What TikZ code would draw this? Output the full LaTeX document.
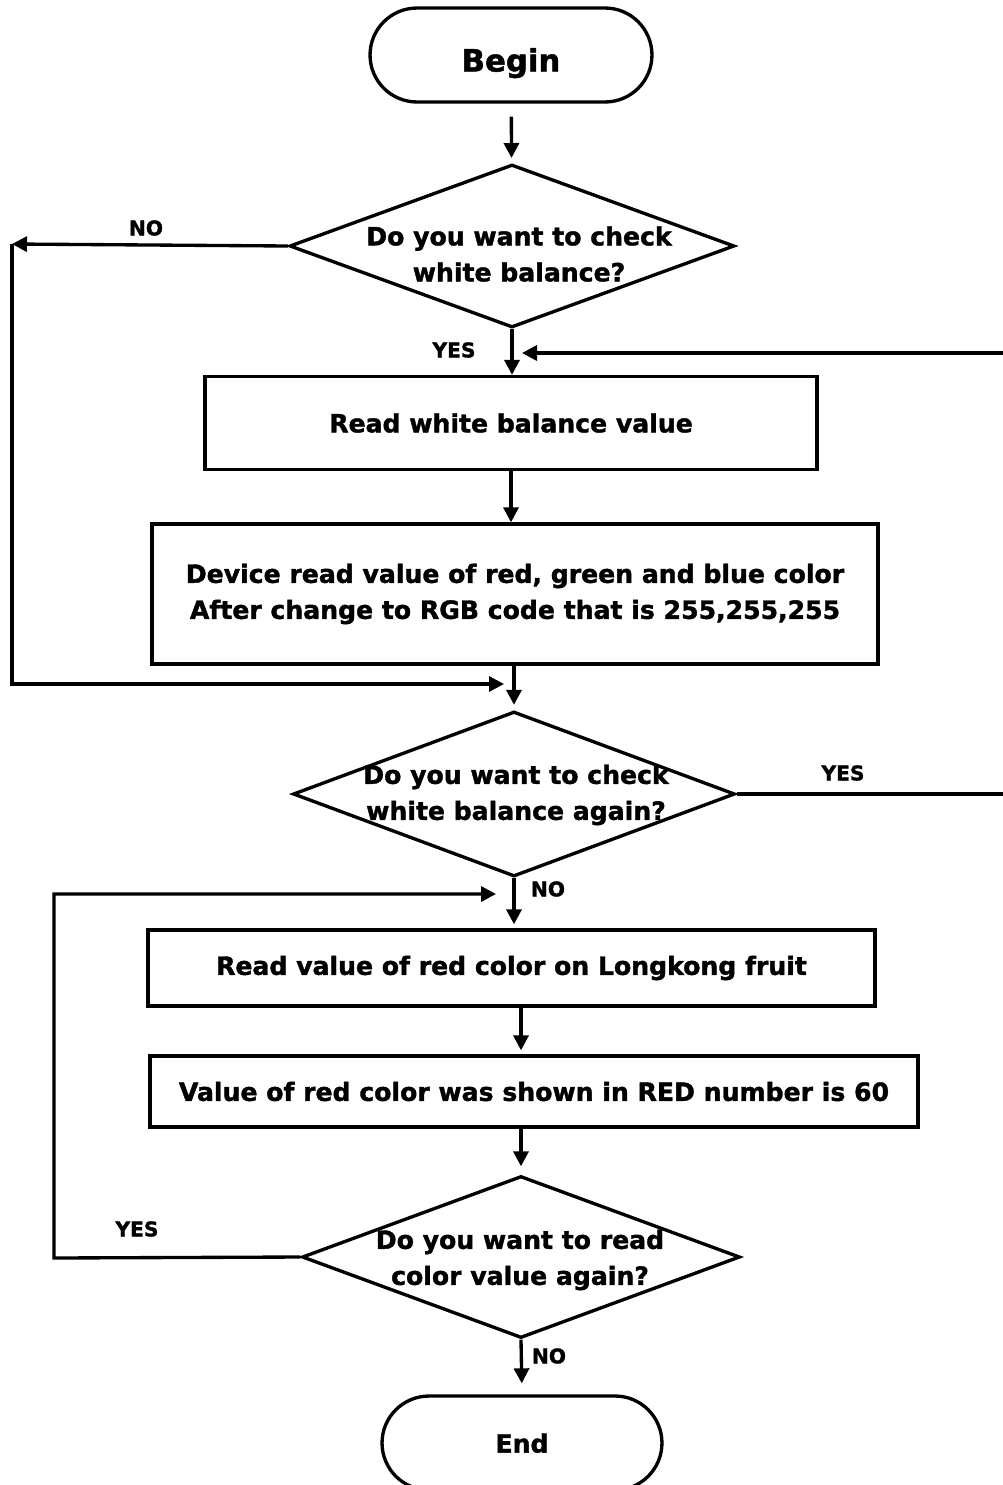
\documentclass[tikz,border=0pt]{standalone}
\usepackage{fontspec}
\setmainfont{DejaVu Sans}[BoldFeatures={FakeBold=1.5}]
\usepackage{tikz}
\usetikzlibrary{shapes.geometric, arrows.meta, positioning}

\begin{document}
\begin{tikzpicture}[
    x=0.02cm, y=-0.02cm,
    line width=1.9pt,
    txt/.style={font=\fontsize{14.3}{20.5}\selectfont\bfseries, align=center, inner sep=0pt},
    lbl/.style={font=\fontsize{11.5}{13}\selectfont\bfseries, inner sep=0pt},
    terminal/.style={rectangle, rounded corners=0.94cm, draw, minimum width=5.64cm, minimum height=1.88cm, text depth=0pt, font=\fontsize{17.5}{20}\selectfont\bfseries},
    process/.style={rectangle, draw, txt},
    decision/.style={diamond, draw, inner sep=0pt},
    arr/.style={-{Triangle[length=0.3cm, width=0.3cm]}}
  ]
  \useasboundingbox (0,0) rectangle (1002,1485);

  % shapes
  \node[terminal, text height=0.66cm] (begin) at (511,55) {Begin};
  \node[decision, minimum width=8.9cm, minimum height=3.26cm] (d1) at (512,246) {};
  \node[txt] (d1txt) at (519,254) {Do you want to check\\white balance?};
  \node[process, minimum width=12.24cm, minimum height=1.86cm] (readwb) at (511,423) {Read white balance value};
  \node[process, minimum width=14.52cm, minimum height=2.8cm] (rgb) at (515,594) {Device read value of red, green and blue color\\After change to RGB code that is 255,255,255};
  \node[decision, minimum width=8.84cm, minimum height=3.3cm] (d2) at (514,794) {};
  \node[txt] (d2txt) at (516,795) {Do you want to check\\white balance again?};
  \node[process, minimum width=14.54cm, minimum height=1.52cm] (readred) at (511.5,968) {Read value of red color on Longkong fruit};
  \node[process, minimum width=15.36cm, minimum height=1.42cm] (shown) at (534,1091.5) {Value of red color was shown in RED number is 60};
  \node[decision, minimum width=8.76cm, minimum height=3.24cm] (d3) at (521,1257) {};
  \node[txt] (d3txt) at (520,1260) {Do you want to read\\color value again?};
  \node[terminal, minimum width=5.6cm, font=\fontsize{14.3}{20}\selectfont\bfseries] (end) at (522,1443) {End};

  % loop corners
  \coordinate (noleft) at (12,244);
  \coordinate (mergea) at (504,684);
  \coordinate (retright) at (1008,353);
  \coordinate (retb1) at (522,353);
  \coordinate (yesleft) at (54,1258);
  \coordinate (mergeb) at (496,894);

  % connectors
  \draw[arr, shorten <=0.26cm, shorten >=0.1cm] (begin) -- (d1);
  \draw[arr] (d1.south) -- (readwb.north -| d1.south);
  \draw[arr] (readwb) -- (rgb.north -| readwb);
  \draw[arr, shorten >=0.1cm] (rgb.south -| d2) -- (d2.north);
  \draw[arr, shorten >=0.08cm] (d2.south) -- (readred.north -| d2.south);
  \draw[arr, shorten >=0.08cm] (readred.south -| d3) -- (shown.north -| d3);
  \draw[arr, shorten >=0.16cm] (shown.south -| d3) -- (d3.north);
  \draw[arr, shorten >=0.22cm] (d3.south) -- (end.north);

  \draw[arr] (d1.west) -- (noleft);
  \draw[arr] (noleft) |- (mergea);
  \draw[arr] (d2.east) -| (retright) -- (retb1);
  \draw[arr] (d3.west) -- (yesleft) |- (mergeb);

  % labels
  \node[lbl] (lno1) at (146,228) {NO};
  \node[lbl] (lyes1) at (454,350) {YES};
  \node[lbl] (lyes2) at (843,773) {YES};
  \node[lbl] (lno2) at (548,889) {NO};
  \node[lbl] (lyes3) at (137,1229) {YES};
  \node[lbl] (lno3) at (549,1356) {NO};
\end{tikzpicture}
\end{document}
